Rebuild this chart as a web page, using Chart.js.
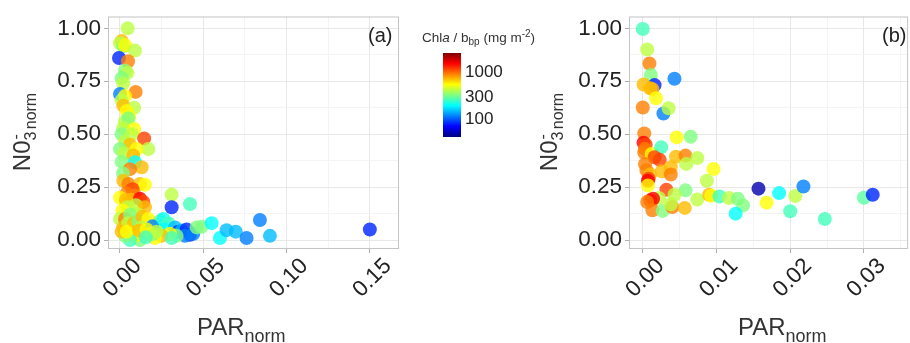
<!DOCTYPE html>
<html>
<head>
<meta charset="utf-8">
<script src="https://cdn.jsdelivr.net/npm/chart.js@4.4.1/dist/chart.umd.min.js"></script>
<style>
  html, body { margin: 0; padding: 0; background: #fff; overflow: hidden; }
  body { width: 910px; height: 343px; position: relative; font-family: "Liberation Sans", Arial, Helvetica, sans-serif; }
  canvas { position: absolute; top: 0; }
  #panelA { left: 0; }
  #panelB { left: 490px; }
  .lbl { position: absolute; white-space: nowrap; color: #333; }
  .xt { font-size: 24px; line-height: 24px; }
  .xt sub { font-size: 18px; vertical-align: -7px; line-height: 0; }
  .yt { font-size: 24px; line-height: 24px; width: 140px; height: 24px; text-align: center; transform: rotate(-90deg); }
  .yt sub { font-size: 16px; vertical-align: -6px; line-height: 0; }
  .yt sub.nm { margin-left: 5px; }
  .yt sup { font-size: 16px; vertical-align: 9px; line-height: 0; margin-left: -8px; }
  .tag { font-size: 20px; line-height: 20px; color: #222; }
  .legt { font-size: 13.5px; line-height: 14px; }
  .legt sub, .legt sup { font-size: 10px; line-height: 0; }
  .legt sub { vertical-align: -3px; }
  .legt sup { vertical-align: 5px; }
  .cbl { font-size: 17px; line-height: 16px; color: #222; }
  #cbar { position: absolute; left: 443px; top: 53px; width: 18px; height: 84px;
    background: linear-gradient(to top, #00007f 0%, #0000ff 12.5%, #00ffff 37.5%, #ffff00 62.5%, #ff0000 87.5%, #7f0000 100%); }
</style>
</head>
<body>
<canvas id="panelA" width="410" height="343"></canvas>
<canvas id="panelB" width="430" height="343"></canvas>

<div class="lbl xt" style="left:197px; top:315px">PAR<sub>norm</sub></div>
<div class="lbl xt" style="left:738px; top:315px">PAR<sub>norm</sub></div>
<div class="lbl yt" style="left:-48px; top:120px">N0<sub>3</sub><sup>-</sup><sub class="nm">norm</sub></div>
<div class="lbl yt" style="left:479px; top:120px">N0<sub>3</sub><sup>-</sup><sub class="nm">norm</sub></div>
<div class="lbl tag" style="left:368px; top:25px">(a)</div>
<div class="lbl tag" style="left:882px; top:25px">(b)</div>

<div class="lbl legt" style="left:422px; top:31px">Chl<i>a</i> / b<sub>bp</sub> (mg m<sup>-2</sup>)</div>
<div id="cbar"></div>

<script>
// panel (a)
var parA = [0.0046, 0.0010, 0.0000, 0.0020, 0.0030, 0.0090, -0.0006, 0.0048, 0.0030, 0.0045,
  0.0010, 0.0020, 0.0094, 0.0000, 0.0030, 0.0010, 0.0020, 0.0085, 0.0040, 0.0055,
  0.0030, 0.0050, 0.0020, 0.0085, 0.0010, 0.0070, 0.0145, 0.0030, 0.0060, 0.0170,
  0.0000, 0.0100, 0.0025, 0.0080, 0.0010, 0.0090, 0.0130, 0.0060, 0.0018, 0.0020,
  0.0050, 0.0120, 0.0150, 0.0075, 0.0040, 0.0090, 0.0000, 0.0035, 0.0065, 0.0120,
  0.0140, 0.0095, 0.0150, 0.0045, 0.0015, 0.0100, 0.0310, 0.0310, 0.0420, 0.0000,
  0.0030, 0.0060, 0.0020, 0.0050, 0.0080, 0.0085, 0.0110, 0.0135, 0.0170, 0.0130,
  0.0240, 0.0195, 0.0260, 0.0290, 0.0270, 0.0330, 0.0350, 0.0370, 0.0400, 0.0420,
  0.0440, 0.0390, 0.0340, 0.0300, 0.0250, 0.0210, 0.0200, 0.0180, 0.0120, 0.0090,
  0.0060, 0.0030, 0.0010, 0.0040, 0.0115, 0.0160, 0.0220, 0.0310, 0.0155, 0.0460,
  0.0490, 0.0550, 0.0600, 0.0640, 0.0695, 0.0760, 0.0840, 0.0900, 0.1500];
var no3A = [1.00, 0.94, 0.93, 0.915, 0.92, 0.895, 0.86, 0.845, 0.80, 0.79,
  0.765, 0.74, 0.70, 0.69, 0.68, 0.66, 0.635, 0.625, 0.61, 0.58,
  0.56, 0.575, 0.53, 0.525, 0.50, 0.50, 0.48, 0.465, 0.45, 0.43,
  0.43, 0.43, 0.41, 0.40, 0.37, 0.368, 0.344, 0.335, 0.315, 0.28,
  0.265, 0.265, 0.262, 0.24, 0.22, 0.21, 0.20, 0.19, 0.19, 0.195,
  0.18, 0.165, 0.155, 0.155, 0.14, 0.125, 0.215, 0.155, 0.17, 0.10,
  0.10, 0.12, 0.06, 0.08, 0.06, 0.08, 0.09, 0.11, 0.10, 0.06,
  0.09, 0.065, 0.10, 0.08, 0.05, 0.06, 0.04, 0.045, 0.05, 0.025,
  0.03, 0.02, 0.02, 0.03, 0.02, 0.01, 0.03, 0.03, 0.00, 0.02,
  0.00, 0.02, 0.04, 0.04, 0.045, 0.05, 0.04, 0.01, 0.013, 0.06,
  0.063, 0.08, 0.01, 0.047, 0.04, 0.01, 0.095, 0.02, 0.05];
var ratioA = [414, 705, 414, 324, 540, 414, 81, 900, 324, 414,
  324, 414, 900, 117, 540, 414, 705, 414, 540, 540,
  414, 324, 414, 540, 324, 414, 1150, 414, 705, 414,
  324, 540, 414, 705, 324, 195, 705, 900, 324, 705,
  900, 705, 540, 1150, 900, 900, 540, 705, 705, 1500,
  1150, 414, 705, 414, 540, 414, 414, 81, 254, 414,
  900, 324, 705, 414, 540, 705, 324, 705, 540, 414,
  324, 117, 195, 254, 195, 149, 81, 149, 81, 81,
  117, 117, 324, 540, 705, 540, 324, 414, 324, 540,
  254, 324, 705, 540, 705, 540, 414, 254, 254, 324,
  324, 195, 195, 149, 149, 117, 117, 149, 81];

// panel (b)
var parB = [0.0000, 0.0006, 0.0009, 0.0011, 0.0016, 0.0001, 0.0010, 0.0013, 0.0018, 0.0043,
  0.0028, 0.0035, 0.0000, 0.0002, 0.0001, 0.0004, 0.0003, 0.0002, 0.0012, 0.0025,
  0.0016, 0.0023, 0.0046, 0.0065, 0.0045, 0.0058, 0.0074, 0.0059, 0.0003, 0.0005,
  0.0010, 0.0008, 0.0007, 0.0007, 0.0038, 0.0026, 0.0038, 0.0096, 0.0087, 0.0032,
  0.0058, 0.0043, 0.0022, 0.0010, 0.0014, 0.0074, 0.0090, 0.0093, 0.0104, 0.0117,
  0.0129, 0.0136, 0.0126, 0.0157, 0.0168, 0.0185, 0.0207, 0.0218, 0.0200, 0.0247,
  0.0300, 0.0312, 0.0013, 0.0027, 0.0040, 0.0057, 0.0038, 0.0006];
var no3B = [0.997, 0.90, 0.834, 0.78, 0.732, 0.735, 0.717, 0.713, 0.67, 0.762,
  0.598, 0.623, 0.626, 0.504, 0.46, 0.45, 0.43, 0.414, 0.407, 0.438,
  0.391, 0.379, 0.485, 0.488, 0.394, 0.399, 0.388, 0.36, 0.36, 0.33,
  0.31, 0.29, 0.28, 0.258, 0.344, 0.325, 0.31, 0.336, 0.28, 0.238,
  0.235, 0.214, 0.199, 0.188, 0.195, 0.192, 0.214, 0.21, 0.206, 0.199,
  0.195, 0.164, 0.125, 0.243, 0.177, 0.222, 0.208, 0.253, 0.136, 0.10,
  0.20, 0.214, 0.141, 0.138, 0.156, 0.152, 0.169, 0.18];
var ratioB = [254, 414, 900, 324, 81, 705, 705, 705, 540, 117,
  117, 414, 900, 900, 1500, 1150, 900, 900, 540, 254,
  1150, 1150, 540, 324, 705, 900, 414, 414, 900, 900,
  705, 1150, 1500, 540, 705, 705, 900, 540, 414, 1150,
  324, 414, 414, 1150, 1500, 414, 705, 540, 254, 414,
  324, 324, 195, 51, 540, 195, 414, 117, 254, 254,
  280, 81, 900, 324, 900, 705, 414, 900];

var yMajor = [0, 0.25, 0.50, 0.75, 1.00];
var yMinor = [0.125, 0.375, 0.625, 0.875];
var xMajorA = [0, 0.05, 0.10, 0.15];
var xMinorA = [0.025, 0.075, 0.125];
var xMajorB = [0, 0.01, 0.02, 0.03];
var xMinorB = [0.005, 0.015, 0.025, 0.035];
var cbTicks = [100, 300, 1000];
var cbRange = [42, 2500];

Chart.defaults.font.family = '"Liberation Sans", Arial, Helvetica, sans-serif';

function cbPos(v) {
  var lo = Math.log10(cbRange[0]), hi = Math.log10(cbRange[1]);
  return (Math.log10(v) - lo) / (hi - lo);
}

function jet(v, a) {
  var t = Math.min(1, Math.max(0, cbPos(v)));
  var c = function (k) { return Math.round(255 * Math.min(1, Math.max(0, 1.5 - Math.abs(4 * t - k)))); };
  return 'rgba(' + c(3) + ',' + c(2) + ',' + c(1) + ',' + a + ')';
}

function isMajor(list, v) {
  return list.some(function (m) { return Math.abs(m - v) < 1e-9; });
}

var framePlugin = {
  id: 'frame',
  afterDraw: function (chart) {
    var a = chart.chartArea, ctx = chart.ctx;
    ctx.save();
    ctx.strokeStyle = '#c4c4c4';
    ctx.lineWidth = 1;
    ctx.strokeRect(a.left + 0.5, a.top + 0.5, a.right - a.left - 1, a.bottom - a.top - 1);
    ctx.restore();
  }
};

function axisOpts(major, minor, range) {
  return {
    type: 'linear',
    min: range[0],
    max: range[1],
    afterBuildTicks: function (s) {
      s.ticks = major.concat(minor).sort(function (a, b) { return a - b; })
        .map(function (v) { return { value: v }; });
    },
    border: { display: false },
    grid: {
      tickLength: 4,
      color: function (ctx) { return ctx.tick && isMajor(major, ctx.tick.value) ? '#e8e8e8' : '#f4f4f4'; },
      tickColor: function (ctx) { return ctx.tick && isMajor(major, ctx.tick.value) ? '#b0b0b0' : 'rgba(0,0,0,0)'; }
    },
    ticks: {
      autoSkip: false,
      color: '#222',
      font: { size: 22.5 },
      callback: function (v) { return isMajor(major, v) ? v.toFixed(2) : ''; }
    }
  };
}

function makePanel(id, par, no3, ratio, xMajor, xMinor, xRange, yWidth, padRight) {
  var pts = par.map(function (x, i) { return { x: x, y: no3[i], c: ratio[i] }; });
  var x = axisOpts(xMajor, xMinor, xRange);
  x.afterFit = function (s) { s.height = 94; };
  x.ticks.minRotation = 45;
  x.ticks.maxRotation = 45;
  x.ticks.labelOffset = 18;
  x.ticks.padding = 0;
  var y = axisOpts(yMajor, yMinor, [-0.042, 1.056]);
  y.afterFit = function (s) { s.width = yWidth; };
  y.ticks.padding = 3;
  return new Chart(document.getElementById(id), {
    type: 'scatter',
    data: {
      datasets: [{
        data: pts,
        pointRadius: 7,
        pointHoverRadius: 7,
        borderWidth: 0,
        backgroundColor: function (ctx) { return ctx.raw ? jet(ctx.raw.c, 0.8) : 'rgba(0,0,0,0)'; }
      }]
    },
    options: {
      responsive: false,
      animation: false,
      events: [],
      layout: { padding: { top: 15, right: padRight, left: 0, bottom: 0 } },
      plugins: { legend: { display: false }, tooltip: { enabled: false } },
      scales: { x: x, y: y }
    },
    plugins: [framePlugin]
  });
}

makePanel('panelA', parA, no3A, ratioA, xMajorA, xMinorA, [-0.0072, 0.1675], 108, 11);
makePanel('panelB', parB, no3B, ratioB, xMajorB, xMinorB, [-0.00187, 0.036], 139, 7);

// colour bar labels
cbTicks.forEach(function (v) {
  var d = document.createElement('div');
  d.className = 'lbl cbl';
  d.textContent = String(v);
  d.style.left = '465px';
  d.style.top = (137 - cbPos(v) * 84 - 8) + 'px';
  document.body.appendChild(d);
});
</script>
</body>
</html>
